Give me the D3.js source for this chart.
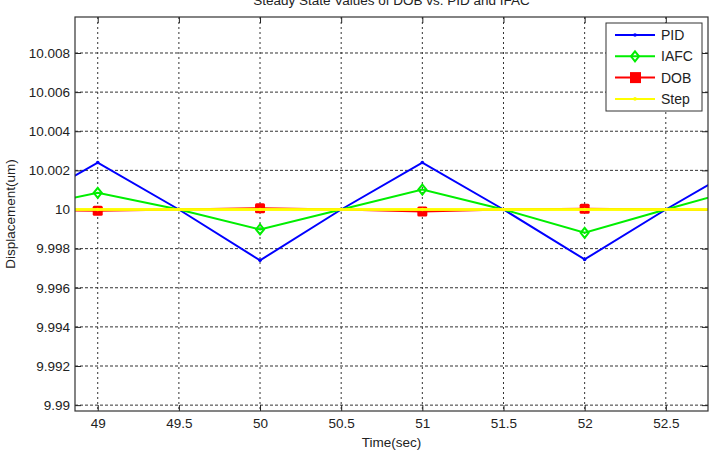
<!DOCTYPE html>
<html>
<head>
<meta charset="utf-8">
<script src="https://cdn.jsdelivr.net/npm/d3@7"></script>
<style>
  body { margin: 0; background: #fff; }
  svg text { font-family: "Liberation Sans", Arial, sans-serif; fill: #222; }
</style>
</head>
<body>
<div id="chart"></div>
<script>
// data
var time = [48.5, 49, 49.5, 50, 50.5, 51, 51.5, 52, 52.5, 53];
var pid  = [10, 10.0024, 10, 9.9974, 10, 10.0024, 10, 9.99745, 10, 10.0024];
var iafc = [10, 10.00085, 10, 9.99898, 10, 10.00102, 10, 9.99881, 10, 10.00115];
var dob  = [10, 9.99993, 10, 10.00007, 10, 9.9999, 10, 10.00004, 10, 9.99995];
var step = [10, 10, 10, 10, 10, 10, 10, 10, 10, 10];

var xTicks = [49, 49.5, 50, 50.5, 51, 51.5, 52, 52.5];
var xTickLabels = ["49", "49.5", "50", "50.5", "51", "51.5", "52", "52.5"];
var yTicks = [9.99, 9.992, 9.994, 9.996, 9.998, 10, 10.002, 10.004, 10.006, 10.008];
var yTickLabels = ["9.99", "9.992", "9.994", "9.996", "9.998", "10", "10.002", "10.004", "10.006", "10.008"];

var seriesNames = ["PID", "IAFC", "DOB", "Step"];
var seriesColors = ["#0000ff", "#00ee00", "#ff0000", "#ffff00"];

var W = 715, H = 462;
var pL = 75, pR = 708, pT = 17, pB = 411;

var svg = d3.select("#chart").append("svg").attr("width", W).attr("height", H);

var x = d3.scaleLinear().domain([48.86, 52.76]).range([pL, pR]);
var y = d3.scaleLinear().domain([9.9897, 10.00984]).range([pB, pT]);

// grid
var grid = svg.append("g");
grid.selectAll(".gx").data(xTicks).enter().append("line")
    .attr("x1", d => x(d)).attr("x2", d => x(d))
    .attr("y1", pT).attr("y2", pB)
    .attr("stroke", "#333").attr("stroke-width", 1).attr("stroke-dasharray", "2,3");
grid.selectAll(".gy").data(yTicks).enter().append("line")
    .attr("x1", pL).attr("x2", pR)
    .attr("y1", d => y(d)).attr("y2", d => y(d))
    .attr("stroke", "#333").attr("stroke-width", 1).attr("stroke-dasharray", "3,2");

// axes, ticks inside, box on
var xb = svg.append("g").attr("transform", "translate(0," + pB + ")")
    .call(d3.axisBottom(x).tickValues(xTicks).tickSizeInner(-6).tickSizeOuter(0)
        .tickFormat((d, i) => xTickLabels[i]));
var xt = svg.append("g").attr("transform", "translate(0," + pT + ")")
    .call(d3.axisTop(x).tickValues(xTicks).tickSizeInner(-6).tickSizeOuter(0).tickFormat(""));
var yl = svg.append("g").attr("transform", "translate(" + pL + ",0)")
    .call(d3.axisLeft(y).tickValues(yTicks).tickSizeInner(-6).tickSizeOuter(0)
        .tickFormat((d, i) => yTickLabels[i]));
var yr = svg.append("g").attr("transform", "translate(" + pR + ",0)")
    .call(d3.axisRight(y).tickValues(yTicks).tickSizeInner(-6).tickSizeOuter(0).tickFormat(""));

[xb, xt, yl, yr].forEach(function(g) {
    g.select(".domain").remove();
    g.selectAll(".tick line").attr("stroke", "#222");
    g.selectAll(".tick text").attr("font-size", "13.5px").attr("fill", "#222")
        .style("font-family", "'Liberation Sans', Arial, sans-serif");
});
xb.selectAll(".tick text").attr("dy", null).attr("y", 17);
yl.selectAll(".tick text").attr("x", -5);

// data
svg.append("clipPath").attr("id", "clip").append("rect")
    .attr("x", pL).attr("y", pT).attr("width", pR - pL).attr("height", pB - pT);
var plot = svg.append("g").attr("clip-path", "url(#clip)");

var allSeries = [pid, iafc, dob, step];
var line = d3.line().x((d, i) => x(time[i])).y(d => y(d));

allSeries.forEach(function(vals, s) {
    var col = seriesColors[s];
    plot.append("path").datum(vals).attr("d", line)
        .attr("fill", "none").attr("stroke", col)
        .attr("stroke-width", s == 3 ? 2.5 : 2);

    var pts = vals.map((v, i) => [time[i], v]);
    if (s == 0 || s == 3) {
        plot.selectAll(null).data(pts).enter().append("circle")
            .attr("cx", d => x(d[0])).attr("cy", d => y(d[1])).attr("r", 1.8).attr("fill", col);
    } else if (s == 1) {
        plot.selectAll(null).data(pts.filter(d => Number.isInteger(d[0]))).enter().append("path")
            .attr("d", d => "M" + x(d[0]) + "," + (y(d[1]) - 5) + "l4,5l-4,5l-4,-5z")
            .attr("fill", "none").attr("stroke", col).attr("stroke-width", 2);
    } else if (s == 2) {
        plot.selectAll(null).data(pts.filter(d => Number.isInteger(d[0]))).enter().append("rect")
            .attr("x", d => x(d[0]) - 5).attr("y", d => y(d[1]) - 5)
            .attr("width", 10).attr("height", 10).attr("rx", 1.5).attr("fill", col);
    }
});
// step line on top of the DOB squares
plot.append("path").datum(step).attr("d", line)
    .attr("fill", "none").attr("stroke", seriesColors[3]).attr("stroke-width", 2.5);

// box
svg.append("rect").attr("x", pL).attr("y", pT).attr("width", pR - pL).attr("height", pB - pT)
    .attr("fill", "none").attr("stroke", "#333").attr("stroke-width", 1.2);

// labels
svg.append("text").attr("x", (pL + pR) / 2).attr("y", 5).attr("text-anchor", "middle")
    .attr("font-size", "13.5px").text("Steady State Values of DOB vs. PID and IFAC");
svg.append("text").attr("x", (pL + pR) / 2).attr("y", 447).attr("text-anchor", "middle")
    .attr("font-size", "13.5px").text("Time(sec)");
svg.append("text").attr("transform", "translate(15," + (pT + pB) / 2 + ") rotate(-90)")
    .attr("text-anchor", "middle").attr("font-size", "13.5px").text("Displacement(um)");

// legend
var lg = svg.append("g");
lg.append("rect").attr("x", 606).attr("y", 23).attr("width", 96).attr("height", 88)
    .attr("fill", "#fff").attr("stroke", "#333").attr("stroke-width", 1);
seriesNames.forEach(function(name, i) {
    var ly = 35 + i * 21.3;
    var col = seriesColors[i];
    lg.append("line").attr("x1", 615).attr("x2", 655).attr("y1", ly).attr("y2", ly)
        .attr("stroke", col).attr("stroke-width", 2);
    if (i == 0 || i == 3) {
        lg.append("circle").attr("cx", 635).attr("cy", ly).attr("r", 1.8).attr("fill", col);
    } else if (i == 1) {
        lg.append("path").attr("d", "M635," + (ly - 5) + "l4,5l-4,5l-4,-5z")
            .attr("fill", "none").attr("stroke", col).attr("stroke-width", 2);
    } else {
        lg.append("rect").attr("x", 630).attr("y", ly - 5.5).attr("width", 11).attr("height", 11).attr("fill", col);
    }
    lg.append("text").attr("x", 661).attr("y", ly + 5).attr("font-size", "14px").text(name);
});
</script>
</body>
</html>
